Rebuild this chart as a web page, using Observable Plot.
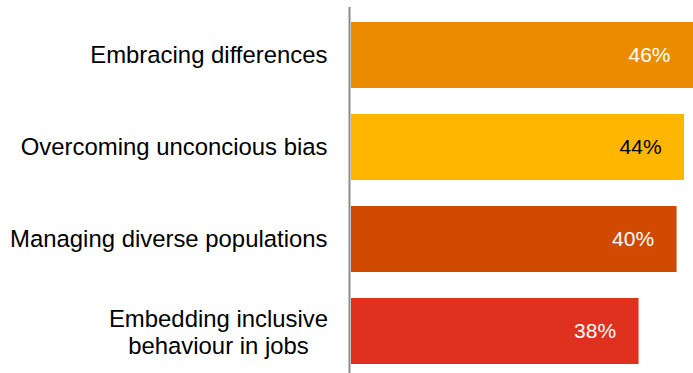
<!DOCTYPE html>
<html>
<head>
<meta charset="utf-8">
<script src="https://cdn.jsdelivr.net/npm/d3@7"></script>
<script src="https://cdn.jsdelivr.net/npm/@observablehq/plot@0.6"></script>
<style>
  html, body { margin: 0; padding: 0; background: #fff; }
</style>
</head>
<body>
<div id="chart"></div>
<script>
const categories = [
  "Embracing differences",
  "Overcoming unconcious bias",
  "Managing diverse populations",
  "Embedding inclusive\nbehaviour in jobs"
];
const barValues = [46, 44.8, 43.8, 38.7];
const valueLabels = ["46%", "44%", "40%", "38%"];
const barColors = ["#EB8C00", "#FFB600", "#D04A02", "#E0301E"];
const labelColors = ["#ffffff", "#000000", "#ffffff", "#ffffff"];

const data = categories.map((c, i) => ({
  category: c,
  value: barValues[i],
  label: valueLabels[i],
  color: barColors[i],
  labelColor: labelColors[i],
  multiline: c.includes("\n")
}));

const chart = Plot.plot({
  width: 693,
  height: 373,
  marginLeft: 350,
  marginRight: 0,
  marginTop: 21,
  marginBottom: 9,
  style: { fontFamily: "Arial, 'Liberation Sans', sans-serif", background: "#fff" },
  x: { domain: [0, 46], axis: null },
  y: { domain: categories, paddingInner: 0.285, paddingOuter: 0, axis: null },
  marks: [
    Plot.barX(data, { x: "value", y: "category", fill: d => d.color, insetLeft: 1 }),
    Plot.ruleX([0], { stroke: "#8c8c8c", strokeWidth: 2, insetTop: -14, insetBottom: -9, dx: -1 }),
    Plot.text(data.filter(d => !d.multiline), {
      y: "category", text: "category", frameAnchor: "left",
      textAnchor: "end", dx: -23, fontSize: 23.9, fill: "#000"
    }),
    Plot.text(data.filter(d => d.multiline), {
      y: "category", text: "category", frameAnchor: "left",
      textAnchor: "middle", dx: -132, fontSize: 23.9, lineHeight: 1.13, fill: "#000"
    }),
    Plot.text(data, {
      x: "value", y: "category", text: "label", fill: d => d.labelColor,
      textAnchor: "end", dx: -23, fontSize: 21
    })
  ]
});
document.getElementById("chart").appendChild(chart);
</script>
</body>
</html>
